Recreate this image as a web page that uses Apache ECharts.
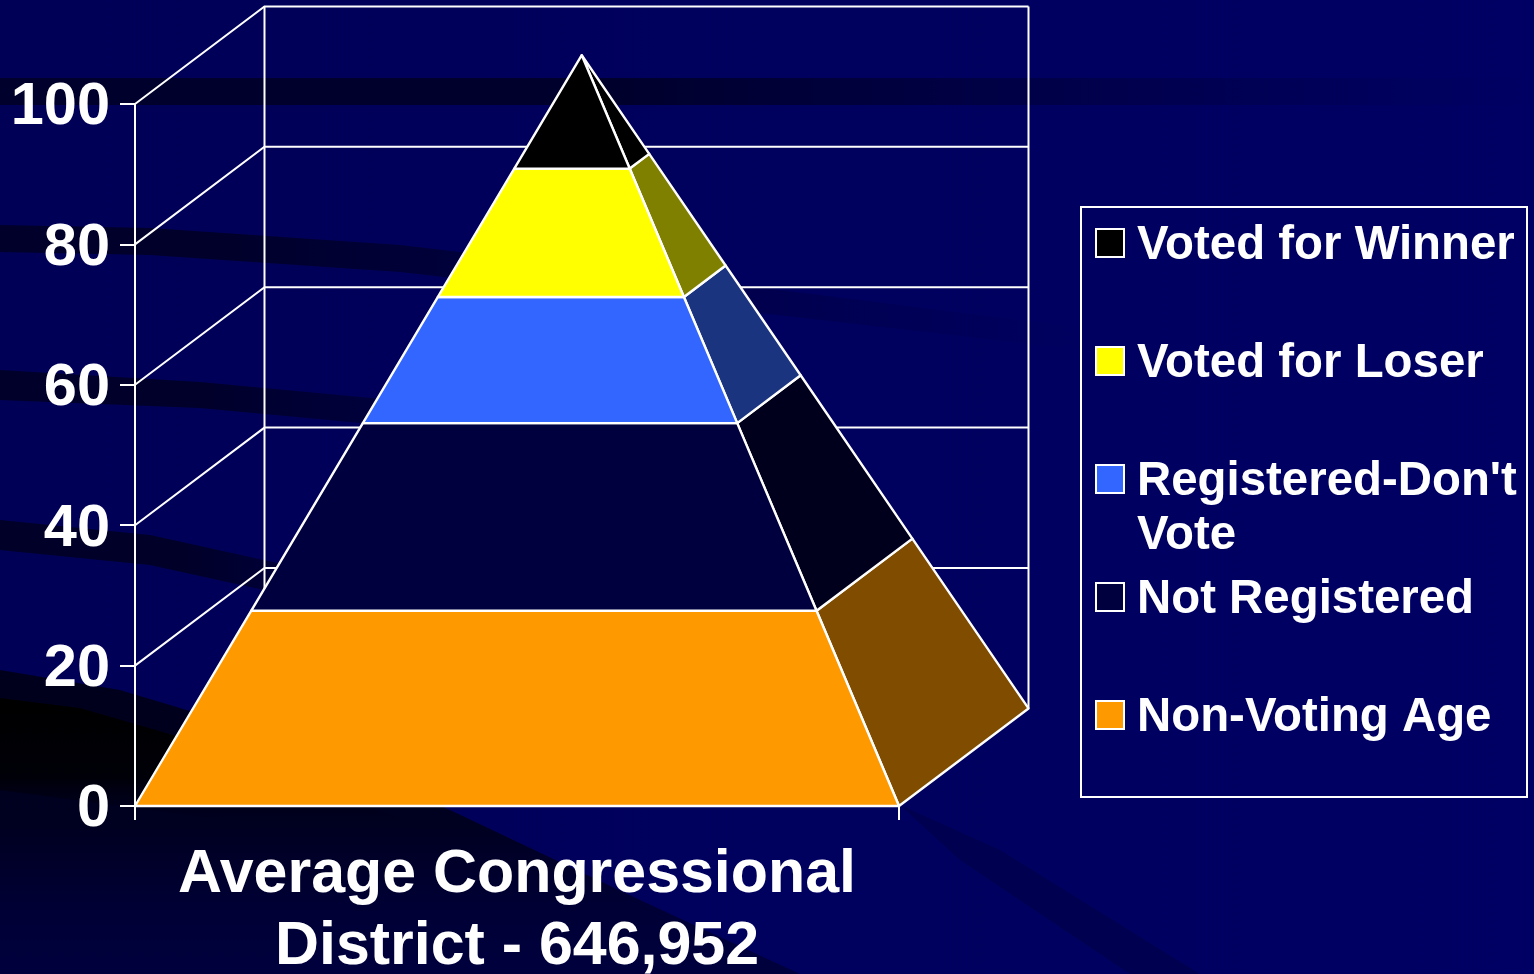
<!DOCTYPE html>
<html><head><meta charset="utf-8">
<style>html,body{margin:0;padding:0;background:#00005c}#c{width:1534px;height:974px}</style>
<script src="https://cdn.jsdelivr.net/npm/echarts@6/dist/echarts.min.js"></script>
</head><body><div id="c"></div>
<script>
var seriesNames = ['Non-Voting Age','Not Registered',"Registered-Don't Vote",'Voted for Loser','Voted for Winner'];
var seriesValues = [26, 25, 16.8, 17.1, 15.1];
var frontColors = ['#FF9900','#00003E','#3366FF','#FFFF00','#000000'];
var sideColors = ['#804C00','#00001C','#1A3480','#808000','#000000'];
var yTicks = [0,20,40,60,80,100];
var categoryLabels = ['Average Congressional\nDistrict - 646,952'];
var legendOrder = ['Voted for Winner','Voted for Loser',"Registered-Don't Vote",'Not Registered','Non-Voting Age'];

var FONT = '"Liberation Sans", Arial, sans-serif';
var DX = 16.95, DY = 13.9;           // chart depth, in axis units
var W = 1534, H = 974;
var gridL = 135, gridT = 104, gridW = 764, gridH = 702;

function lerp(a,b,t){return [a[0]+(b[0]-a[0])*t, a[1]+(b[1]-a[1])*t];}
var FL=[0,0], FR=[100,0], BR=[100+DX,DY], APEX=[50+DX/2,100+DY/2];

function layerSeries(i, low, high){
  return {
    type:'custom', name:seriesNames[i], xAxisIndex:1, yAxisIndex:0, clip:false,
    itemStyle:{color:frontColors[i]}, silent:true,
    data:[[low,high]],
    encode:{y:[0,1]},
    renderItem:function(params,api){
      var a=api.value(0)/100, b=api.value(1)/100;
      var p=function(c,t){return api.coord(lerp(c,APEX,t));};
      var ln={stroke:'#ffffff',lineWidth:2.4,lineJoin:'round'};
      return {type:'group',children:[
        {type:'polygon',shape:{points:[p(FR,a),p(BR,a),p(BR,b),p(FR,b)]},
          style:Object.assign({fill:sideColors[i]},ln)},
        {type:'polygon',shape:{points:[p(FL,a),p(FR,a),p(FR,b),p(FL,b)]},
          style:Object.assign({fill:frontColors[i]},ln)}
      ]};
    }
  };
}
var series=[{
  type:'custom', name:'walls', xAxisIndex:1, yAxisIndex:0, clip:false, silent:true,
  data:yTicks.map(function(v){return [v];}), encode:{y:0},
  renderItem:function(params,api){
    var v=api.value(0);
    var ls={stroke:'#ffffff',lineWidth:2,fill:null};
    var kids=[{type:'polyline',shape:{points:[api.coord([0,v]),api.coord([DX,v+DY]),api.coord([100+DX,v+DY])]},style:ls}];
    if(v===0){
      kids.push({type:'polyline',shape:{points:[api.coord([DX,DY]),api.coord([DX,100+DY])]},style:ls});
      kids.push({type:'polyline',shape:{points:[api.coord([100+DX,DY]),api.coord([100+DX,100+DY])]},style:ls});
    }
    return {type:'group',children:kids};
  }
}];
var cum=0;
seriesValues.forEach(function(v,i){series.push(layerSeries(i,cum,cum+v));cum+=v;});

var LEG_LH=54, LEG_SHIFT=6, rowStart=243, rowStep=118;
var legends=legendOrder.map(function(name,i){
  var two=name.indexOf("Don't")>=0;
  var lines=two?3:1;
  return {
    show:true, data:[name], orient:'vertical', selectedMode:false, padding:0,
    left:1095, top:rowStart+rowStep*i-(LEG_LH*lines+LEG_SHIFT)/2,
    icon:'rect', itemWidth:28, itemHeight:28,
    itemStyle:{borderColor:'#ffffff',borderWidth:2},
    formatter:two?"{s| }\n{t| }\n{t|Registered-Don't}\n{t|Vote}":function(n){return '{s| }\n{t|'+n+'}';},
    textStyle:{color:'#ffffff',fontFamily:FONT,fontWeight:'bold',fontSize:47.4,padding:[0,0,0,8],
      rich:{
        s:{fontSize:1,lineHeight:LEG_SHIFT,height:LEG_SHIFT},
        t:{color:'#ffffff',fontFamily:FONT,fontWeight:'bold',fontSize:47.4,lineHeight:LEG_LH}
      }}
  };
});

function band(points,color,x0,x1){
  return {type:'polygon',silent:true,z:-5,shape:{points:points},style:{
    fill:new echarts.graphic.LinearGradient(0,0,1,0,[{offset:0,color:color},{offset:x0,color:color},{offset:x1,color:'rgba(0,0,60,0)'},{offset:1,color:'rgba(0,0,60,0)'}])}};
}
var graphics=[
  {type:'rect',silent:true,z:-10,shape:{x:0,y:0,width:W,height:H},style:{
    fill:new echarts.graphic.LinearGradient(0,0,1,0,[{offset:0,color:'#000056'},{offset:.5,color:'#00005e'},{offset:1,color:'#000064'}])}},
  band([[0,78],[1534,78],[1534,105],[0,105]],'#00002c',.4,1),
  band([[0,225],[150,228],[400,245],[700,280],[1100,330],[1100,352],[700,306],[400,272],[150,255],[0,252]],'#00002a',.2,1),
  band([[0,370],[200,382],[500,410],[800,470],[800,495],[500,436],[200,408],[0,400]],'#00002a',.25,1),
  band([[0,520],[150,535],[400,590],[600,650],[600,680],[400,620],[150,565],[0,550]],'#000028',.3,1),
  {type:'polygon',silent:true,z:-6,shape:{points:[[0,670],[120,690],[280,738],[450,810],[640,900],[800,974],[0,974]]},style:{
    fill:new echarts.graphic.LinearGradient(0,0,0,1,[{offset:0,color:'#00001c'},{offset:.5,color:'#000020'},{offset:.8,color:'#000036'},{offset:1,color:'#00003e'}])}},
  {type:'polygon',silent:true,z:-5,shape:{points:[[0,698],[80,708],[180,737],[300,780],[430,830],[300,830],[0,790]]},style:{
    fill:new echarts.graphic.LinearGradient(0,0,0,1,[{offset:0,color:'#000000'},{offset:.6,color:'#000008'},{offset:1,color:'rgba(0,0,32,0)'}])}},
  {type:'polygon',silent:true,z:-5,shape:{points:[[900,805],[1000,850],[1200,974],[1130,974],[960,860]]},style:{fill:'#00004e',opacity:.8}},
  {type:'rect',silent:true,z:1,shape:{x:1081,y:207,width:446,height:590},style:{fill:'rgba(0,0,0,0)',stroke:'#ffffff',lineWidth:2}}
];

var chart=echarts.init(document.getElementById('c'),null,{renderer:'canvas',width:W,height:H});
chart.setOption({
  animation:false,
  backgroundColor:'#00005c',
  graphic:graphics,
  legend:legends,
  grid:{left:gridL,top:gridT,width:gridW,height:gridH,containLabel:false,outerBoundsMode:'none'},
  xAxis:[{
    type:'category',data:categoryLabels,position:'bottom',
    axisLine:{show:false},
    axisTick:{show:true,alignWithLabel:false,length:14,lineStyle:{color:'#fff',width:2}},
    axisLabel:{color:'#fff',fontFamily:FONT,fontWeight:'bold',fontSize:60.9,lineHeight:72,margin:33,interval:0,hideOverlap:false}
  },{
    type:'value',min:0,max:100,show:false
  }],
  yAxis:[{
    type:'value',min:0,max:100,interval:20,
    axisLine:{show:true,lineStyle:{color:'#fff',width:2}},
    axisTick:{show:true,length:15,lineStyle:{color:'#fff',width:2}},
    splitLine:{show:false},
    axisLabel:{color:'#fff',fontFamily:FONT,fontWeight:'bold',fontSize:59.5,margin:25,hideOverlap:false,showMinLabel:true,showMaxLabel:true,
      formatter:function(v){return '{s| }\n{t|'+v+'}';},
      rich:{
        s:{fontSize:1,lineHeight:8,height:8},
        t:{color:'#fff',fontFamily:FONT,fontWeight:'bold',fontSize:59.5,lineHeight:64}
      }}
  }],
  series:series
});
</script>
</body></html>
